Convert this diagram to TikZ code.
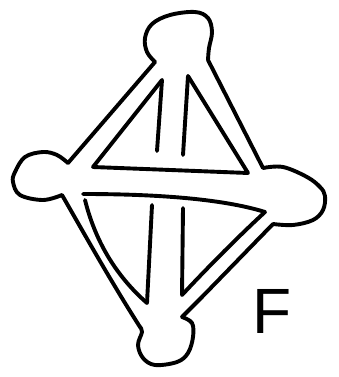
\documentclass[tikz,border=0pt]{standalone}
\usepackage{fontspec}
\setsansfont{Liberation Sans}
\tikzset{
  ink/.style={line width=3.9pt,line cap=round,line join=round},
  lbl/.style={font=\sffamily\fontsize{64}{64}\selectfont,anchor=base west,inner sep=0pt}
}

\begin{document}
\begin{tikzpicture}[x=1pt,y=-1pt]
\useasboundingbox (0,0) rectangle (338,377);

% junctions of the outer ribbon
\coordinate (tl) at (155,62);
\coordinate (tr) at (208,60);
\coordinate (rt) at (263,168);
\coordinate (rb) at (273,224);
\coordinate (br) at (182,317);
\coordinate (bl) at (140,327);
\coordinate (lb) at (62,195);
\coordinate (lt) at (68,163);

% blobs at the four ends
\draw[ink] plot[smooth,tension=0.6] coordinates {(tl) (147,52) (145,38) (152,24) (170,15) (195,12) (208,18) (212,32) (209,48) (tr)};
\draw[ink] plot[smooth,tension=0.6] coordinates {(rt) (283,167) (307,177) (320,187) (325,196) (323,210) (313,220) (293,225) (rb)};
\draw[ink] plot[smooth,tension=0.6] coordinates {(br) (192,323) (193,337) (188,353) (177,362) (155,365) (143,358) (138,345) (142,332) (bl)};
\draw[ink] plot[smooth,tension=0.6] coordinates {(lb) (43,200) (20,195) (13,182) (15,172) (25,157) (43,152) (57,155) (lt)};

% outer edges
\draw[ink] (tr) -- (rt);
\draw[ink] (rb) -- (202,297) -- (br);
\draw[ink] (bl) .. controls (110,280) and (85,235) .. (lb);
\draw[ink] (lt) -- (tl);

% upper triangle
\coordinate (ua) at (162,80);
\coordinate (ub) at (188,76);
\coordinate (ul) at (93,167);
\coordinate (ur) at (248,173);
\draw[ink] (ua) -- (ul) -- (ur) -- (ub);
\draw[ink] (ua) -- (157,151);
\draw[ink] (ub) -- (183,155);

% lower triangle
\coordinate (dl) at (83,194);
\coordinate (dr) at (265,212);
\coordinate (da) at (147,303);
\coordinate (db) at (182,295);
\draw[ink] (dl) .. controls (150,194) and (220,198) .. (dr);
\draw[ink] (85,200) .. controls (95,240) and (115,275) .. (da);
\draw[ink] (152,205) -- (da);
\draw[ink] (183,208) -- (db);
\draw[ink] (db) .. controls (210,265) and (240,235) .. (dr);

\node[lbl] (f) at (252,333) {F};

\end{tikzpicture}
\end{document}
